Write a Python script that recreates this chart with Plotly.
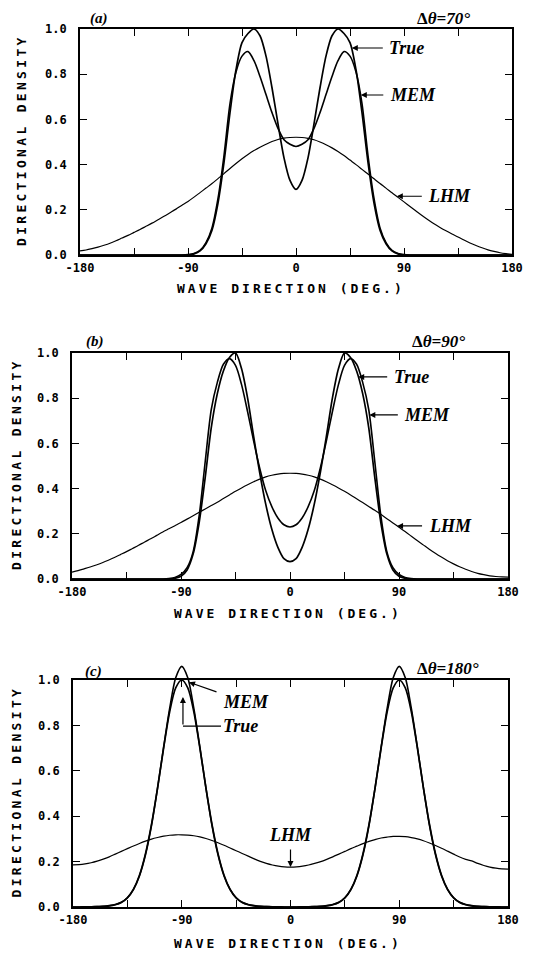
import plotly.graph_objects as go

# page is 546x955; the html body adds an 8px margin, so the figure is 8px smaller
PAGE_OFF = 8
W, H = 546 - PAGE_OFF, 955 - PAGE_OFF

# ---------------- data ----------------
DIRECTION = [-180, -175, -170, -165, -160, -155, -150, -145, -140, -135, -130, -125,
             -120, -115, -110, -105, -100, -95, -90, -85, -80, -75, -70, -65,
             -60, -55, -50, -45, -40, -35, -30, -25, -20, -15, -10, -5,
             0, 5, 10, 15, 20, 25, 30, 35, 40, 45, 50, 55,
             60, 65, 70, 75, 80, 85, 90, 95, 100, 105, 110, 115,
             120, 125, 130, 135, 140, 145, 150, 155, 160, 165, 170, 175, 180]

# (a) delta theta = 70 deg
A_TRUE = [0, 0, 0, 0, 0, 0, 0, 0, 0, 0, 0, 0, 0, 0, 0, 0, 0, 0,
          0.0, 0.005, 0.018, 0.05, 0.11, 0.23, 0.41, 0.63, 0.82, 0.94, 0.98, 1.0,
          0.97, 0.88, 0.74, 0.58, 0.43, 0.33,
          0.29,
          0.33, 0.43, 0.58, 0.74, 0.88, 0.97, 1.0, 0.98, 0.94, 0.82, 0.63, 0.41,
          0.23, 0.11, 0.05, 0.018, 0.005, 0.0,
          0, 0, 0, 0, 0, 0, 0, 0, 0, 0, 0, 0, 0, 0, 0, 0, 0, 0]
A_MEM = [0, 0, 0, 0, 0, 0, 0, 0, 0, 0, 0, 0, 0, 0, 0, 0, 0, 0,
         0.002, 0.007, 0.02, 0.055, 0.12, 0.25, 0.44, 0.67, 0.81, 0.88, 0.90, 0.86,
         0.79, 0.71, 0.63, 0.56, 0.51, 0.49,
         0.48,
         0.49, 0.51, 0.56, 0.63, 0.71, 0.79, 0.86, 0.90, 0.88, 0.81, 0.67, 0.44,
         0.25, 0.12, 0.055, 0.02, 0.007, 0.002,
         0, 0, 0, 0, 0, 0, 0, 0, 0, 0, 0, 0, 0, 0, 0, 0, 0, 0]
A_LHM = [0.018, 0.022, 0.028, 0.035, 0.043, 0.052, 0.063, 0.075, 0.087, 0.1, 0.113, 0.127,
         0.141, 0.156, 0.171, 0.187, 0.203, 0.22, 0.237, 0.256, 0.276, 0.296, 0.316, 0.338,
         0.36, 0.383, 0.405, 0.426, 0.445, 0.462, 0.477, 0.49, 0.502, 0.511, 0.517, 0.52,
         0.521,
         0.52, 0.516, 0.51, 0.5, 0.488, 0.474, 0.458, 0.44, 0.42, 0.4, 0.379, 0.358,
         0.337, 0.316, 0.296, 0.275, 0.255, 0.235, 0.215, 0.195, 0.175, 0.156, 0.138, 0.122,
         0.107, 0.093, 0.08, 0.066, 0.053, 0.042, 0.032, 0.023, 0.016, 0.01, 0.006, 0.003]

# (b) delta theta = 90 deg
B_TRUE = [0, 0, 0, 0, 0, 0, 0, 0, 0, 0, 0, 0, 0, 0, 0, 0,
          0.0, 0.003, 0.012, 0.04, 0.11, 0.25, 0.45, 0.67, 0.82, 0.92, 0.98, 1.0,
          0.93, 0.80, 0.63, 0.47, 0.33, 0.22, 0.14, 0.09,
          0.077,
          0.09, 0.14, 0.22, 0.33, 0.47, 0.63, 0.80, 0.93, 1.0, 0.98, 0.92, 0.82,
          0.67, 0.45, 0.25, 0.11, 0.04, 0.012, 0.003, 0.0,
          0, 0, 0, 0, 0, 0, 0, 0, 0, 0, 0, 0, 0, 0, 0, 0]
B_MEM = [0, 0, 0, 0, 0, 0, 0, 0, 0, 0, 0, 0, 0, 0, 0, 0,
         0.002, 0.007, 0.02, 0.05, 0.12, 0.28, 0.52, 0.75, 0.87, 0.95, 0.975, 0.945,
         0.86, 0.74, 0.61, 0.49, 0.39, 0.32, 0.27, 0.24,
         0.23,
         0.24, 0.27, 0.32, 0.39, 0.49, 0.61, 0.74, 0.86, 0.945, 0.975, 0.95, 0.87,
         0.75, 0.52, 0.28, 0.12, 0.05, 0.02, 0.007, 0.002,
         0, 0, 0, 0, 0, 0, 0, 0, 0, 0, 0, 0, 0, 0, 0, 0]
B_LHM = [0.03, 0.037, 0.045, 0.053, 0.062, 0.072, 0.083, 0.095, 0.108, 0.121, 0.135, 0.149,
         0.164, 0.178, 0.193, 0.208, 0.222, 0.236, 0.25, 0.265, 0.28, 0.295, 0.31, 0.325,
         0.34, 0.356, 0.372, 0.388, 0.403, 0.417, 0.43, 0.442, 0.452, 0.459, 0.464, 0.467,
         0.468,
         0.467, 0.464, 0.459, 0.452, 0.442, 0.43, 0.417, 0.403, 0.388, 0.372, 0.355, 0.338,
         0.321, 0.304, 0.286, 0.267, 0.248, 0.229, 0.21, 0.19, 0.17, 0.151, 0.132, 0.114,
         0.097, 0.081, 0.067, 0.054, 0.043, 0.033, 0.025, 0.019, 0.014, 0.011, 0.009, 0.008]

# (c) delta theta = 180 deg
C_TRUE = [0.0, 0.0, 0.0005, 0.001, 0.0015, 0.003, 0.005, 0.01, 0.02, 0.04, 0.078, 0.14,
          0.235, 0.365, 0.525, 0.70, 0.86, 0.965, 1.0, 0.965, 0.86, 0.70, 0.525, 0.365,
          0.235, 0.14, 0.078, 0.04, 0.02, 0.01, 0.005, 0.003, 0.0015, 0.001, 0.0005, 0.0,
          0.0,
          0.0, 0.0005, 0.001, 0.0015, 0.003, 0.005, 0.01, 0.02, 0.04, 0.078, 0.14, 0.235,
          0.365, 0.525, 0.70, 0.86, 0.965, 1.0, 0.965, 0.86, 0.70, 0.525, 0.365, 0.235,
          0.14, 0.078, 0.04, 0.02, 0.01, 0.005, 0.003, 0.0015, 0.001, 0.0005, 0.0, 0.0]
C_MEM = [0.0, 0.0, 0.0005, 0.001, 0.002, 0.003, 0.006, 0.011, 0.021, 0.041, 0.077, 0.137,
         0.23, 0.36, 0.525, 0.705, 0.875, 1.01, 1.06, 1.01, 0.875, 0.705, 0.525, 0.36,
         0.23, 0.137, 0.077, 0.041, 0.021, 0.011, 0.006, 0.003, 0.002, 0.001, 0.0005, 0.0,
         0.0,
         0.0, 0.0005, 0.001, 0.002, 0.003, 0.006, 0.011, 0.021, 0.041, 0.077, 0.137, 0.23,
         0.36, 0.525, 0.705, 0.875, 1.01, 1.06, 1.01, 0.875, 0.705, 0.525, 0.36, 0.23,
         0.137, 0.077, 0.041, 0.021, 0.011, 0.006, 0.003, 0.002, 0.001, 0.0005, 0.0, 0.0]
C_LHM = [0.186, 0.187, 0.19, 0.195, 0.202, 0.211, 0.221, 0.233, 0.245, 0.257, 0.269, 0.28,
         0.29, 0.299, 0.306, 0.312, 0.316, 0.318, 0.318, 0.317, 0.314, 0.309, 0.302, 0.293,
         0.283, 0.272, 0.26, 0.248, 0.236, 0.224, 0.212, 0.201, 0.192, 0.185, 0.18, 0.177,
         0.176,
         0.177, 0.18, 0.185, 0.192, 0.2, 0.21, 0.221, 0.233, 0.245, 0.257, 0.268, 0.279,
         0.289, 0.297, 0.304, 0.308, 0.311, 0.311, 0.31, 0.306, 0.3, 0.292, 0.282, 0.271,
         0.259, 0.246, 0.233, 0.22, 0.21, 0.203, 0.192, 0.183, 0.176, 0.171, 0.168, 0.167]

X_TICKS = [-180, -135, -90, -45, 0, 45, 90, 135, 180]
X_TICKTEXT = ["-180", "", "-90", "", "0", "", "90", "", "180"]
Y_TICKS = [0.0, 0.2, 0.4, 0.6, 0.8, 1.0]
Y_TICKTEXT = ["0.0", "0.2", "0.4", "0.6", "0.8", "1.0"]

PANEL_TAGS = ["(a)", "(b)", "(c)"]
SPREADS = ["<b>\u0394</b><b><i>\u03b8=70\u00b0</i></b>",
           "<b>\u0394</b><b><i>\u03b8=90\u00b0</i></b>",
           "<b>\u0394</b><b><i>\u03b8=180\u00b0</i></b>"]

# ---------------- layout geometry (page pixels) ----------------
FRAMES = [  # left, right, top(y=1), bottom(y=0)
    (80, 512, 29, 255),
    (72, 508, 353, 579),
    (73, 508, 680, 907),
]
C_TOP_EXTRA = 1.1   # data axis of (c) extends above the frame

MONO = "DejaVu Sans Mono"
SERIF = "Liberation Serif"
tick_font = dict(family=MONO, size=12, color="black", weight="bold")


def fx(px):
    return (px - PAGE_OFF) / W


def fy(py):
    return 1 - (py - PAGE_OFF) / H


def spaced(s, gap):
    sp = '<span style="font-size:%gpx"> </span>' % gap
    return sp.join(list(s))


fig = go.Figure()

curves = [
    (A_TRUE, A_MEM, A_LHM),
    (B_TRUE, B_MEM, B_LHM),
    (C_TRUE, C_MEM, C_LHM),
]

layout = dict(
    template="none",
    width=W, height=H, margin=dict(l=0, r=0, t=0, b=0, pad=0, autoexpand=False),
    paper_bgcolor="white", plot_bgcolor="rgba(0,0,0,0)",
    showlegend=False,
)

for i, (l, r, t, b) in enumerate(FRAMES):
    n = i + 1
    xd = [fx(l), fx(r)]
    yd = [fy(b), fy(t)]
    xa = dict(domain=xd, range=[-180, 180], anchor="y%d" % n if n > 1 else "y",
              tickmode="array", tickvals=X_TICKS, ticktext=X_TICKTEXT,
              ticks="inside", ticklen=7, tickwidth=1.3, tickcolor="black",
              showline=True, linewidth=1.6, linecolor="black", mirror="ticks",
              showgrid=False, zeroline=False, tickfont=tick_font, automargin=False,
              ticklabelstandoff=1, fixedrange=True)
    ya = dict(domain=yd, range=[0, 1], anchor="x%d" % n if n > 1 else "x",
              tickmode="array", tickvals=Y_TICKS, ticktext=Y_TICKTEXT,
              ticks="inside", ticklen=7, tickwidth=1.3, tickcolor="black",
              showline=True, linewidth=1.6, linecolor="black", mirror="ticks",
              showgrid=False, zeroline=False, tickfont=tick_font, automargin=False,
              ticklabelstandoff=9, fixedrange=True)
    layout["xaxis" if n == 1 else "xaxis%d" % n] = xa
    layout["yaxis" if n == 1 else "yaxis%d" % n] = ya

# hidden data axes for panel (c) so the MEM peaks can rise above the frame
l, r, t, b = FRAMES[2]
ylo, yhi = fy(b), fy(t)
layout["xaxis4"] = dict(domain=[fx(l), fx(r)], range=[-180, 180], anchor="y4",
                        visible=False, fixedrange=True, automargin=False)
layout["yaxis4"] = dict(domain=[ylo, ylo + (yhi - ylo) * C_TOP_EXTRA], range=[0, C_TOP_EXTRA],
                        anchor="x4", visible=False, fixedrange=True, automargin=False)

axes_for_data = [("x", "y"), ("x2", "y2"), ("x4", "y4")]
for (tr, mem, lhm), (xa, ya) in zip(curves, axes_for_data):
    for vals, w in ((lhm, 1.2), (mem, 1.6), (tr, 1.7)):
        fig.add_trace(go.Scatter(x=DIRECTION, y=vals, mode="lines", xaxis=xa, yaxis=ya,
                                 line=dict(color="black", width=w, shape="spline", smoothing=0.8),
                                 hoverinfo="skip"))

fig.update_layout(**layout)

ann = []
YTITLE = spaced("DIRECTIONAL DENSITY", 5.5)
XTITLE = spaced("WAVE DIRECTION (DEG.)", 5)
ytitle_x = [21, 16, 16]
xtitle_y = [288, 613, 943]
xtitle_x = [289, 286, 286]
tag_pos = [(99, 19), (95, 341), (93, 671)]
spread_pos = [(444, 19), (438, 342), (448, 668)]
title_font = dict(family=MONO, size=13, color="black", weight="bold")
for i, (l, r, t, b) in enumerate(FRAMES):
    ann.append(dict(xref="paper", yref="paper", x=fx(ytitle_x[i]), y=fy((t + b) / 2),
                    text=YTITLE, textangle=-90, showarrow=False, font=title_font,
                    xanchor="center", yanchor="middle"))
    ann.append(dict(xref="paper", yref="paper", x=fx(xtitle_x[i]), y=fy(xtitle_y[i]),
                    text=XTITLE, showarrow=False, font=title_font,
                    xanchor="center", yanchor="middle"))
    ann.append(dict(xref="paper", yref="paper", x=fx(tag_pos[i][0]), y=fy(tag_pos[i][1]),
                    text=PANEL_TAGS[i], showarrow=False,
                    font=dict(family=SERIF, size=15, color="black", weight="bold", style="italic"),
                    xanchor="center", yanchor="middle"))
    ann.append(dict(xref="paper", yref="paper", x=fx(spread_pos[i][0]), y=fy(spread_pos[i][1]),
                    text=SPREADS[i], showarrow=False,
                    font=dict(family=SERIF, size=17, color="black"),
                    xanchor="center", yanchor="middle"))

lab_font = dict(family=SERIF, size=18, color="black", weight="bold", style="italic")


def label(text, xref, yref, x, y, ax, ay, head=2, pad=6):
    return dict(xref=xref, yref=yref, x=x, y=y, ax=ax, ay=ay, text=text,
                showarrow=True, arrowhead=head, arrowsize=1, arrowwidth=1.2,
                arrowcolor="black", font=lab_font, borderpad=pad,
                xanchor="center", yanchor="middle")


# panel (a)
ann.append(label("True", "x", "y", 46.5, 0.916, 55, 0))
ann.append(label("MEM", "x", "y", 54, 0.708, 52, 0))
ann.append(label("LHM", "x", "y", 84, 0.26, 53, 0))
# panel (b)
ann.append(label("True", "x2", "y2", 56.3, 0.894, 53, 0))
ann.append(label("MEM", "x2", "y2", 65.5, 0.726, 58, 0))
ann.append(label("LHM", "x2", "y2", 88.4, 0.235, 53, 0))
# panel (c)
ann.append(label("MEM", "x3", "y3", -84, 0.99, 57, 20))
ann.append(dict(xref="x3", yref="y3", x=-89, y=0.925, ax=0, ay=29, text="",
                showarrow=True, arrowhead=2, arrowsize=1, arrowwidth=1.2, arrowcolor="black"))
ann.append(label("True", "x3", "y3", -89, 0.797, 58, 0, head=0, pad=2))
ann.append(label("LHM", "x3", "y3", 0, 0.176, 0, -32, head=2, pad=4))

fig.update_layout(annotations=ann)

fig.write_html("out.html")
